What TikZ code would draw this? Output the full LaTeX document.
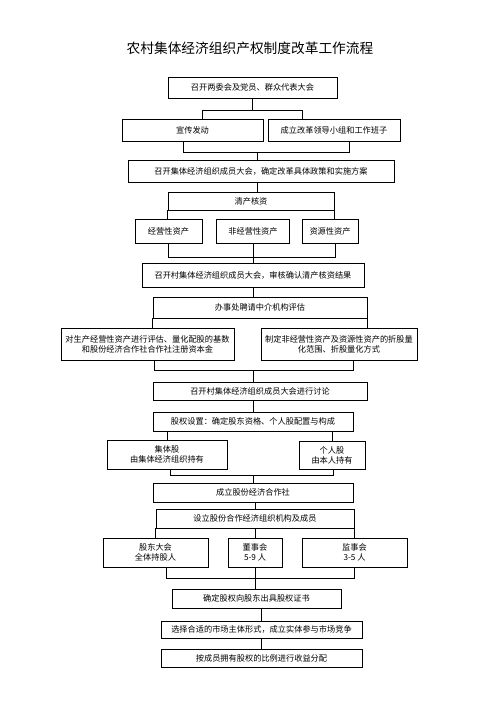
\documentclass[tikz,border=0pt]{standalone}
\usepackage{fontspec}
\setmainfont{Noto Sans CJK SC}
\tikzset{
  box/.style 2 args={draw, line width=0.65pt, inner sep=0pt, align=center,
    minimum width=#1*0.03cm, minimum height=#2*0.03cm,
    font=\fontsize{7}{8.6}\selectfont},
  link/.style={line width=0.65pt}
}

\begin{document}
\begin{tikzpicture}[x=0.03cm, y=-0.03cm]
\useasboundingbox[fill=white] (0,0) rectangle (503,711);

\node (title) at (250,48) {\fontsize{11.7}{14}\selectfont 农村集体经济组织产权制度改革工作流程};

\node[box={169}{21}] (meet) at (252.5,87.5) {召开两委会及党员、群众代表大会};
\node[box={141}{22}] (promo) at (192.5,130) {宣传发动};
\node[box={132}{22}] (team) at (334,130) {成立改革领导小组和工作班子};
\node[box={266}{22}] (plan) at (261,171) {召开集体经济组织成员大会，确定改革具体政策和实施方案};
\node[box={166}{18}] (audit) at (251,201) {清产核资};
\node[box={67}{24}] (opasset) at (168.5,231) {经营性资产};
\node[box={73}{24}] (nonop) at (253,231) {非经营性资产};
\node[box={56}{24}] (resasset) at (330,231) {资源性资产};
\node[box={222}{24}] (verify) at (253,275) {召开村集体经济组织成员大会，审核确认清产核资结果};
\node[box={214}{21}] (appraise) at (260,307.5) {办事处聘请中介机构评估};
\node[box={173}{32}] (evalop) at (147.5,344) {对生产经营性资产进行评估、量化配股的基数\\和股份经济合作社合作社注册资本金};
\node[box={156}{32}] (evalnon) at (339,344) {制定非经营性资产及资源性资产的折股量\\化范围、折股量化方式};
\node[box={214}{18}] (discuss) at (260,391) {召开村集体经济组织成员大会进行讨论};
\node[box={200}{19}] (equity) at (253,421.5) {股权设置：确定股东资格、个人股配置与构成};
\node[box={120}{29}] (collect) at (167,454.5) {集体股\\由集体经济组织持有};
\node[box={66}{28}] (personal) at (332,455) {个人股\\由本人持有};
\node[box={200}{19}] (coop) at (253,492.5) {成立股份经济合作社};
\node[box={198}{19}] (organ) at (255,518.5) {设立股份合作经济组织机构及成员};
\node[box={105}{29}] (holders) at (155.5,552.5) {股东大会\\全体持股人};
\node[box={54}{29}] (board) at (255,552.5) {董事会\\5-9 人};
\node[box={105}{29}] (supervise) at (354.5,552.5) {监事会\\3-5 人};
\node[box={169}{19}] (cert) at (256.5,598.5) {确定股权向股东出具股权证书};
\node[box={201}{17}] (market) at (261.5,629.5) {选择合适的市场主体形式，成立实体参与市场竞争};
\node[box={201}{18}] (dividend) at (261.5,658) {按成员拥有股权的比例进行收益分配};

\coordinate (j1l) at (202,110); \coordinate (j1r) at (302,110);
\coordinate (j2l) at (183,152); \coordinate (j2r) at (349,152); \coordinate (j2) at (257,152);
\coordinate (j5l) at (168,257); \coordinate (j5r) at (335,257);
\coordinate (j8l) at (154,370); \coordinate (j8r) at (353,370); \coordinate (j8) at (253,370);
\coordinate (j11l) at (170,475); \coordinate (j11r) at (333,475); \coordinate (j11) at (253,475);
\coordinate (j14l) at (166,578); \coordinate (j14r) at (354,578);

\draw[link] (meet.south) -- (meet.south |- j1l);
\draw[link] (j1l |- promo.north) -- (j1l) -- (j1r) -- (j1r |- team.north);
\draw[link] (j2l |- promo.south) -- (j2l) -- (j2r) -- (j2r |- team.south);
\draw[link] (j2) -- (j2 |- plan.north);
\draw[link] (j2 |- plan.south) -- (j2 |- audit.north);
\draw[link] (audit.south west) -- (audit.south west |- opasset.north);
\draw[link] (audit.south east) -- (audit.south east |- resasset.north);
\draw[link] (j5l |- opasset.south) -- (j5l) -- (j5r) -- (j5r |- resasset.south);
\draw[link] (nonop.south) -- (nonop.south |- verify.north);
\draw[link] (verify.south) -- (verify.south |- appraise.north);
\draw[link] (appraise.south west) -- (appraise.south west |- evalop.north);
\draw[link] (appraise.south east) -- (appraise.south east |- evalnon.north);
\draw[link] (j8l |- evalop.south) -- (j8l) -- (j8r) -- (j8r |- evalnon.south);
\draw[link] (j8) -- (j8 |- discuss.north);
\draw[link] (j8 |- discuss.south) -- (j8 |- equity.north);
\draw[link] (collect.north) -- (collect.north |- equity.south);
\draw[link] (personal.north) -- (personal.north |- equity.south);
\draw[link] (j11l |- collect.south) -- (j11l) -- (j11r) -- (j11r |- personal.south);
\draw[link] (j11) -- (j11 |- coop.north);
\draw[link] (organ.north) -- (organ.north |- coop.south);
\draw[link] (organ.south west) -- (organ.south west |- holders.north);
\draw[link] (board.north) -- (board.north |- organ.south);
\draw[link] (organ.south east) -- (organ.south east |- supervise.north);
\draw[link] (j14l |- holders.south) -- (j14l) -- (j14r) -- (j14r |- supervise.south);
\draw[link] (board.south) -- (board.south |- cert.north);
\draw[link] (market.north) -- (market.north |- cert.south);
\draw[link] (dividend.north) -- (dividend.north |- market.south);
\end{tikzpicture}
\end{document}
